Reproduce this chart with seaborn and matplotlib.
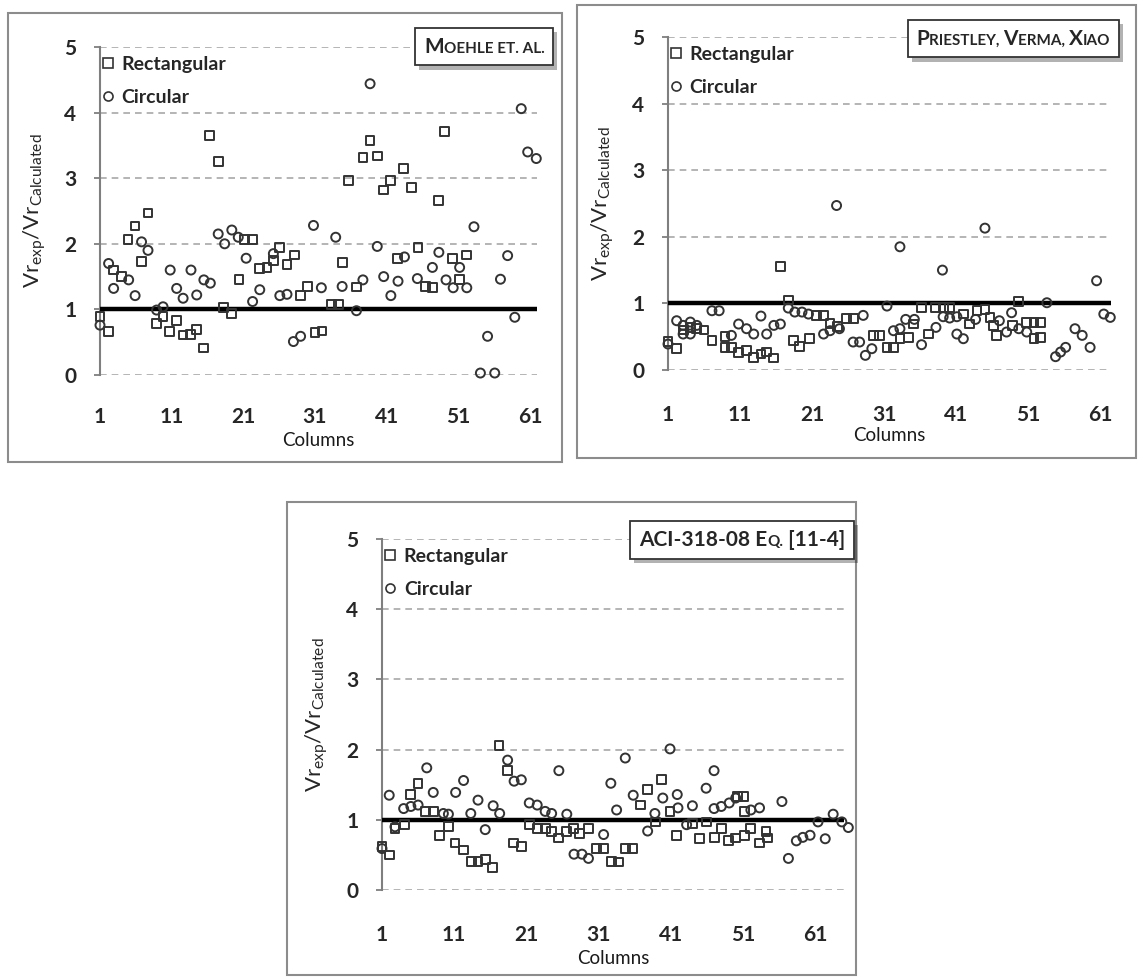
import numpy as np
import matplotlib
matplotlib.use("Agg")
import matplotlib.pyplot as plt
import seaborn as sns
from matplotlib.lines import Line2D
from matplotlib.patches import Rectangle
from matplotlib.offsetbox import TextArea, HPacker, AnchoredOffsetbox
from matplotlib import patheffects as pe

# --- data: (column index, Vr_exp / Vr_calculated) ---
moehle_rect_x = [1, 2.2, 2.9, 4, 4.9, 5.9, 6.8, 7.7, 8.9, 9.8, 10.7, 11.7, 12.6, 13.6, 14.5,
                 15.5, 16.3, 17.5, 18.2, 19.4, 20.4, 21.2, 22.3, 23.3, 24.3, 25.2, 26.1, 27.1,
                 28.1, 29, 30, 31, 32, 33.3, 34.3, 34.8, 35.7, 36.8, 37.7, 38.7, 39.7, 40.6,
                 41.6, 42.5, 43.4, 44.5, 45.4, 46.4, 47.4, 48.3, 49.1, 50.2, 51.2, 52.2]
moehle_rect_y = [0.89, 0.66, 1.60, 1.50, 2.06, 2.27, 1.73, 2.47, 0.79, 0.89, 0.66, 0.83, 0.61,
                 0.62, 0.69, 0.41, 3.65, 3.25, 1.03, 0.94, 1.45, 2.06, 2.07, 1.62, 1.64, 1.75,
                 1.94, 1.68, 1.83, 1.21, 1.35, 0.65, 0.67, 1.08, 1.08, 1.72, 2.97, 1.34, 3.32,
                 3.58, 3.34, 2.82, 2.97, 1.78, 3.15, 2.86, 1.94, 1.35, 1.33, 2.66, 3.71, 1.78,
                 1.45, 1.83]
moehle_circ_x = [1, 2.2, 2.9, 5, 5.9, 6.8, 7.7, 8.9, 9.8, 10.8, 11.7, 12.6, 13.7, 14.5, 15.5,
                 16.4, 17.5, 18.4, 19.4, 20.3, 21.4, 22.3, 23.3, 25.2, 26.1, 27.1, 28, 29, 30.8,
                 31.9, 33.9, 34.8, 36.8, 37.7, 38.7, 39.7, 40.6, 41.6, 42.6, 43.5, 45.3, 47.4,
                 48.3, 49.3, 50.3, 51.2, 52.2, 53.2, 54.1, 55.1, 56.1, 56.9, 57.9, 58.9, 59.8,
                 60.7, 61.9]
moehle_circ_y = [0.76, 1.70, 1.32, 1.45, 1.21, 2.03, 1.90, 0.99, 1.04, 1.60, 1.32, 1.17, 1.60,
                 1.22, 1.45, 1.40, 2.15, 2.00, 2.21, 2.10, 1.78, 1.12, 1.30, 1.85, 1.21, 1.23,
                 0.51, 0.59, 2.28, 1.33, 2.10, 1.35, 0.98, 1.45, 4.44, 1.96, 1.50, 1.21, 1.43,
                 1.80, 1.47, 1.64, 1.87, 1.45, 1.33, 1.64, 1.33, 2.26, 0.03, 0.59, 0.03, 1.46,
                 1.82, 0.88, 4.06, 3.40, 3.30]

priestley_rect_x = [1, 2.2, 3.1, 4.1, 5, 6, 7.1, 8.9, 8.9, 9.8, 10.8, 11.9, 12.9, 13.9, 14.7,
                    15.7, 16.6, 17.7, 18.4, 19.3, 20.6, 21.6, 22.6, 23.5, 24.5, 25.8, 26.7, 29.5,
                    30.4, 31.4, 32.3, 33.2, 34.4, 35.1, 36.2, 37.2, 38.1, 39.2, 40.1, 42, 42.9,
                    43.9, 45, 45.7, 46.2, 46.6, 48.8, 49.7, 50.8, 51.8, 52.7, 51.8, 52.7]
priestley_rect_y = [0.43, 0.32, 0.60, 0.64, 0.62, 0.60, 0.44, 0.50, 0.34, 0.34, 0.26, 0.29,
                    0.19, 0.24, 0.27, 0.18, 1.55, 1.05, 0.44, 0.35, 0.47, 0.82, 0.82, 0.70,
                    0.65, 0.77, 0.77, 0.52, 0.52, 0.34, 0.34, 0.47, 0.49, 0.69, 0.94, 0.54,
                    0.94, 0.94, 0.94, 0.84, 0.69, 0.89, 0.91, 0.79, 0.67, 0.52, 0.67, 1.03,
                    0.71, 0.71, 0.71, 0.47, 0.49]
priestley_circ_x = [1, 2.2, 3.1, 4.1, 5, 3.1, 4.1, 7.1, 8.1, 9.8, 10.8, 11.9, 12.9, 13.9, 14.7,
                    15.7, 16.6, 17.7, 18.6, 19.6, 20.5, 22.6, 23.5, 24.4, 24.8, 26.7, 27.6, 28.1,
                    28.4, 29.3, 31.4, 32.3, 33.2, 33.2, 34, 35.2, 36.2, 38.2, 39.1, 39.2, 40.1,
                    41.1, 41.1, 42, 43.7, 45, 47, 48, 48.7, 49.7, 50.8, 53.6, 54.8, 55.5, 56.2,
                    57.5, 58.5, 59.6, 60.5, 61.5, 62.4]
priestley_circ_y = [0.39, 0.74, 0.67, 0.72, 0.67, 0.54, 0.54, 0.89, 0.89, 0.52, 0.69, 0.62,
                    0.54, 0.81, 0.54, 0.67, 0.69, 0.93, 0.87, 0.87, 0.84, 0.54, 0.59, 2.47,
                    0.62, 0.42, 0.42, 0.82, 0.22, 0.32, 0.96, 0.59, 0.62, 1.85, 0.76, 0.76,
                    0.38, 0.64, 1.50, 0.80, 0.78, 0.80, 0.54, 0.47, 0.76, 2.13, 0.74, 0.57,
                    0.86, 0.62, 0.57, 1.01, 0.20, 0.27, 0.34, 0.62, 0.52, 0.34, 1.34, 0.84, 0.79]

aci_rect_x = [1, 2, 2.8, 4.1, 5, 6, 7, 8.1, 9, 10.2, 11.1, 12.3, 13.4, 14.3, 15.3, 16.3, 17.2,
              18.4, 19.2, 20.3, 21.4, 22.5, 23.6, 24.5, 25.4, 26.6, 27.5, 28.4, 29.6, 30.7,
              31.7, 32.8, 33.8, 34.7, 35.7, 36.8, 37.8, 38.9, 39.7, 40.9, 41.8, 44, 45, 45.9,
              47.1, 48, 49, 50, 50.2, 51.1, 51.2, 51.2, 52.1, 53.3, 54.2, 54.4]
aci_rect_y = [0.62, 0.50, 0.88, 0.93, 1.36, 1.52, 1.12, 1.12, 0.78, 0.90, 0.67, 0.57, 0.41,
              0.41, 0.43, 0.32, 2.06, 1.70, 0.67, 0.62, 0.93, 0.88, 0.88, 0.83, 0.74, 0.83,
              0.88, 0.81, 0.88, 0.59, 0.59, 0.41, 0.40, 0.59, 0.59, 1.21, 1.43, 0.97, 1.57,
              1.12, 0.78, 0.95, 0.73, 0.97, 0.75, 0.88, 0.70, 0.74, 1.33, 1.33, 0.78, 1.12,
              0.88, 0.67, 0.83, 0.74]
aci_circ_x = [1, 2, 2.8, 4, 5, 6, 7.2, 8.1, 9.5, 10.2, 11.2, 12.3, 13.3, 14.3, 15.3, 16.4,
              17.3, 18.4, 19.3, 20.3, 21.4, 22.5, 23.6, 24.5, 25.5, 26.6, 27.6, 28.7, 29.6,
              31.7, 32.7, 33.5, 34.7, 35.8, 37.8, 38.8, 39.9, 40.9, 41.9, 42, 43.2, 44, 45.9,
              47, 47, 48, 49.1, 50, 52.1, 53.3, 56.4, 57.3, 58.4, 59.3, 60.3, 61.4, 62.4,
              63.5, 64.7, 65.6]
aci_circ_y = [0.59, 1.35, 0.90, 1.16, 1.19, 1.21, 1.74, 1.39, 1.09, 1.08, 1.39, 1.56, 1.09,
              1.28, 0.86, 1.20, 1.09, 1.85, 1.55, 1.57, 1.24, 1.21, 1.12, 1.09, 1.70, 1.08,
              0.51, 0.51, 0.45, 0.79, 1.52, 1.14, 1.88, 1.35, 0.84, 1.09, 1.31, 2.01, 1.36,
              1.17, 0.93, 1.20, 1.45, 1.70, 1.16, 1.19, 1.24, 1.31, 1.14, 1.17, 1.26, 0.45,
              0.70, 0.75, 0.78, 0.97, 0.73, 1.08, 0.97, 0.89]

x_ticks = [1, 11, 21, 31, 41, 51, 61]
y_ticks = [0, 1, 2, 3, 4, 5]

sns.set_theme(style="white")
plt.rcParams["font.family"] = ["Lato", "DejaVu Sans"]
plt.rcParams["mathtext.fontset"] = "custom"
plt.rcParams["mathtext.rm"] = "Lato"

W, H = 1138, 980
fig = plt.figure(figsize=(W / 100, H / 100), dpi=100)
EDGE = "#333333"


def px_rect(x0, y0, x1, y1):
    # pixel box (top-left origin) -> figure fraction [left, bottom, width, height]
    return [x0 / W, 1 - y1 / H, (x1 - x0) / W, (y1 - y0) / H]


def panel(rect, xmax, rect_x, rect_y, circ_x, circ_y, xpad, xlab_off, title_parts, title_anchor):
    ax = fig.add_axes(px_rect(*rect))
    w_px = rect[2] - rect[0]
    h_px = rect[3] - rect[1]
    sns.scatterplot(x=rect_x, y=rect_y, marker="s", s=40, color="none", edgecolor=EDGE,
                    linewidth=1.4, ax=ax, clip_on=False, zorder=4)
    sns.scatterplot(x=circ_x, y=circ_y, marker="o", s=42, color="none", edgecolor=EDGE,
                    linewidth=1.4, ax=ax, clip_on=False, zorder=4)
    ax.axhline(1, color="black", lw=3.2, zorder=3)
    ax.set_xlim(1, xmax)
    ax.set_ylim(0, 5)
    ax.set_xticks(x_ticks)
    ax.set_yticks(y_ticks)
    ax.grid(axis="y", color="#a8a8a8", ls=(0, (4, 3)), lw=1.2)
    ax.grid(axis="x", visible=False)
    for s in ["top", "right", "bottom"]:
        ax.spines[s].set_visible(False)
    ax.spines["left"].set_color("#7f7f7f")
    ax.spines["left"].set_linewidth(1.5)
    ax.tick_params(axis="y", left=True, length=4, width=1.3, color="#7f7f7f", pad=13,
                   labelsize=15, labelcolor="#262626")
    ax.tick_params(axis="x", bottom=False, length=0, pad=xpad, labelsize=15, labelcolor="#262626")
    for t in ax.get_xticklabels() + ax.get_yticklabels():
        t.set_fontweight("bold")
    ax.set_ylabel(r"$\mathregular{Vr_{exp}/Vr_{Calculated}}$", fontsize=16, color="#262626")
    ax.yaxis.set_label_coords(-52 / w_px, 0.5)
    ax.set_xlabel("Columns", fontsize=13.5, color="#1a1a1a")
    ax.xaxis.set_label_coords(0.5, -xlab_off / h_px)

    handles = [Line2D([], [], marker="s", ls="none", mfc="none", mec=EDGE, mew=1.2, ms=6.5),
               Line2D([], [], marker="o", ls="none", mfc="none", mec=EDGE, mew=1.2, ms=6.5)]
    leg = ax.legend(handles, ["Rectangular", "Circular"], loc="upper left",
                    bbox_to_anchor=(0.005, 1 - 9 / h_px), frameon=False, borderaxespad=0,
                    borderpad=0, handlelength=0.6, handletextpad=0.4, labelspacing=0.8,
                    prop=dict(size=14, weight="bold"))
    for t in leg.get_texts():
        t.set_color("#262626")

    # small-caps title box
    areas = [TextArea(t, textprops=dict(size=15 if big else 11, weight="bold", color="#262626"))
             for t, big in title_parts]
    pack = HPacker(children=areas, align="baseline", pad=0, sep=0)
    box = AnchoredOffsetbox(loc="upper right", child=pack, pad=0.45, borderpad=0, frameon=True,
                            prop=dict(size=14), bbox_to_anchor=(title_anchor[0] / W, 1 - title_anchor[1] / H),
                            bbox_transform=fig.transFigure)
    box.patch.set_boxstyle("square", pad=0)
    box.patch.set_edgecolor("#333333")
    box.patch.set_linewidth(1.3)
    box.patch.set_path_effects([pe.SimplePatchShadow(offset=(3, -3), shadow_rgbFace="#000000", alpha=0.3),
                                pe.Normal()])
    box.set_zorder(10)
    fig.add_artist(box)
    return ax


# panel frames
for x0, y0, x1, y1 in [(8, 13, 562, 462), (577, 5, 1136, 458), (287, 502, 856, 975)]:
    l, b, w, h = px_rect(x0, y0, x1, y1)
    fig.add_artist(Rectangle((l, b), w, h, transform=fig.transFigure, fill=False,
                             edgecolor="#8c8c8c", lw=1.5))

panel((100, 47, 537, 375), 62, moehle_rect_x, moehle_rect_y, moehle_circ_x, moehle_circ_y,
      23, 57, [("M", True), ("OEHLE ET. AL.", False)], (553, 28))
panel((668, 37, 1111, 370), 62.5, priestley_rect_x, priestley_rect_y,
      priestley_circ_x, priestley_circ_y, 25, 57,
      [("P", True), ("RIESTLEY, ", False), ("V", True), ("ERMA, ", False), ("X", True), ("IAO", False)],
      (1119, 20))
panel((382, 539, 844, 890), 65, aci_rect_x, aci_rect_y, aci_circ_x, aci_circ_y,
      25, 60, [("ACI-318-08 E", True), ("Q.", False), (" [11-4]", True)], (854, 521))

fig.savefig("out.png", dpi=100)
